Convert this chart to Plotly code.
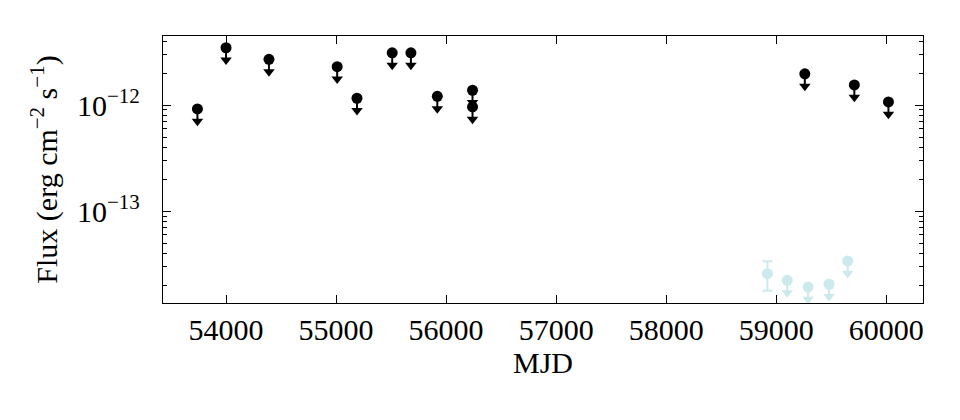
import plotly.graph_objects as go

# Upper limits (black)
mjd_ul = [53740, 54000, 54390, 55010, 55190, 55510, 55680, 55920, 56240, 56240, 59260, 59710, 60020]
flux_ul = [9.2e-13, 3.47e-12, 2.70e-12, 2.30e-12, 1.16e-12, 3.11e-12, 3.11e-12, 1.21e-12,
           1.38e-12, 9.6e-13, 1.97e-12, 1.55e-12, 1.07e-12]

# recent data (light blue): one detection + upper limits
mjd_det = [58920]
flux_det = [2.58e-14]
flux_det_err = [0.8e-14]
mjd_ul2 = [59100, 59290, 59480, 59650]
flux_ul2 = [2.23e-14, 1.93e-14, 2.05e-14, 3.40e-14]

x_ticks = [54000, 55000, 56000, 57000, 58000, 59000, 60000]
x_ticktext = [str(v) for v in x_ticks]
y_ticks = [1e-13, 1e-12]
y_ticktext = ["10<sup>−13</sup>", "10<sup>−12</sup>"]
y_minor = [m * 10.0**e for e in (-14, -13) for m in range(2, 10)] + [2e-12, 3e-12, 4e-12]

BLACK = "black"
LIGHT = "#cce9ec"
ARROW = 0.765  # arrow head position relative to the limit value (log axis)
FONT = "Liberation Serif"


def add_limits(fig, xs, ys, color):
    sx, sy = [], []
    for x, y in zip(xs, ys):
        sx += [x, x, None]
        sy += [y, y * ARROW, None]
    fig.add_trace(go.Scatter(x=sx, y=sy, mode="lines",
                             line=dict(color=color, width=2), hoverinfo="skip"))
    fig.add_trace(go.Scatter(x=xs, y=[y * ARROW for y in ys], mode="markers",
                             marker=dict(symbol="triangle-down", size=10, color=color)))
    fig.add_trace(go.Scatter(x=xs, y=ys, mode="markers",
                             marker=dict(symbol="circle", size=11, color=color)))


fig = go.Figure()
add_limits(fig, mjd_ul, flux_ul, BLACK)
add_limits(fig, mjd_ul2, flux_ul2, LIGHT)
fig.add_trace(go.Scatter(
    x=mjd_det, y=flux_det, mode="markers",
    marker=dict(symbol="circle", size=11, color=LIGHT),
    error_y=dict(type="data", array=flux_det_err, color=LIGHT, thickness=2, width=5),
))

axis_common = dict(
    showline=True, linecolor="black", linewidth=1.3, mirror="ticks",
    ticks="inside", tickcolor="black", tickwidth=1, showgrid=False, zeroline=False,
    tickfont=dict(family=FONT, size=30, color="black"), automargin=False,
)

fig.update_xaxes(
    range=[53427, 60334], tickvals=x_ticks, ticktext=x_ticktext, ticklen=8, ticklabelstandoff=0,
    title=dict(text="MJD", font=dict(family=FONT, size=30, color="black"), standoff=4),
    **axis_common,
)
fig.update_yaxes(
    type="log", range=[-13.865, -11.349], tickvals=y_ticks, ticktext=y_ticktext,
    ticklen=8, ticklabelstandoff=16,
    minor=dict(ticks="inside", ticklen=4, tickwidth=1, tickcolor="black", tickvals=y_minor),
    title=dict(text="Flux (erg cm<sup>−2</sup> s<sup>−1</sup>)",
               font=dict(family=FONT, size=30, color="black"), standoff=10),
    **axis_common,
)

# page has an 8px body margin, so the figure is a bit smaller than the window
fig.update_layout(
    width=952, height=412, showlegend=False,
    margin=dict(l=155, r=37, t=28, b=117),
    plot_bgcolor="white", paper_bgcolor="white",
    font=dict(family=FONT, color="black"),
)

fig.write_html("out.html")
